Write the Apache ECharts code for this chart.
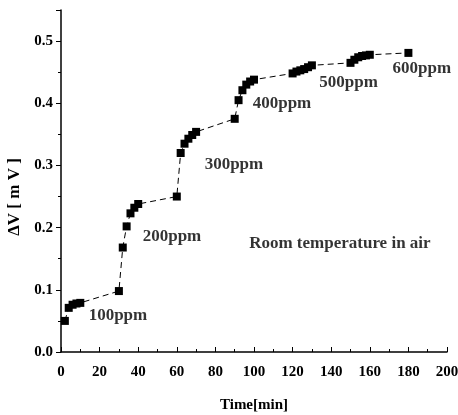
<!DOCTYPE html>
<html>
<head>
<meta charset="utf-8">
<script src="https://cdn.jsdelivr.net/npm/echarts@6/dist/echarts.min.js"></script>
<style>
  html, body { margin: 0; padding: 0; background: #fff; }
  #chart { width: 458px; height: 415px; }
</style>
</head>
<body>
<div id="chart"></div>
<script>
// 时间 (min) 与 ΔV (mV)
const times = [2, 4, 6, 8, 10, 30, 32, 34, 36, 38, 40, 60, 62, 64, 66, 68, 70, 90,
  92, 94, 96, 98, 100, 120, 122, 124, 126, 128, 130, 150, 152, 154, 156, 158, 160, 180];
const deltaV = [0.050, 0.071, 0.076, 0.078, 0.079, 0.098, 0.168, 0.202, 0.223, 0.232, 0.238, 0.250,
  0.320, 0.335, 0.343, 0.349, 0.354, 0.375,
  0.405, 0.421, 0.430, 0.435, 0.438, 0.448, 0.451, 0.453, 0.455, 0.458, 0.461,
  0.465, 0.470, 0.474, 0.476, 0.477, 0.478, 0.481];

// 标注文字 (数据坐标)
const noteTexts = ['100ppm', '200ppm', '300ppm', '400ppm', '500ppm', '600ppm', 'Room temperature in air'];
const noteX = [29.5, 57.5, 89.6, 114.5, 149, 187, 144.5];
const noteY = [0.058, 0.185, 0.302, 0.399, 0.434, 0.455, 0.175];

const font = '"Liberation Serif", "DejaVu Serif", serif';
const chart = echarts.init(document.getElementById('chart'));

const option = {
  animation: false,
  backgroundColor: '#fff',
  grid: { left: 61, right: 11, top: 10, bottom: 63, outerBoundsMode: 'none', containLabel: false },
  xAxis: {
    type: 'value',
    min: 0,
    max: 200,
    interval: 20,
    name: 'Time[min]',
    nameLocation: 'middle',
    nameGap: 46,
    nameTextStyle: { fontFamily: font, fontWeight: 'bold', fontSize: 15, color: '#000' },
    axisLine: { lineStyle: { color: '#000', width: 1.5 } },
    axisTick: { inside: true, length: 5, lineStyle: { color: '#000' } },
    minorTick: { show: true, splitNumber: 2, length: 3, lineStyle: { color: '#000' } },
    axisLabel: { fontFamily: font, fontWeight: 'bold', fontSize: 15, color: '#000', margin: 13 },
    splitLine: { show: false }
  },
  yAxis: {
    type: 'value',
    min: 0,
    max: 0.55,
    interval: 0.1,
    name: 'ΔV [ m V ]',
    nameLocation: 'middle',
    nameGap: 34,
    nameTextStyle: {
      fontFamily: font, fontWeight: 'bold', fontSize: 17, color: '#000',
      padding: [0, 32, 0, 0]
    },
    axisLine: { show: true, lineStyle: { color: '#000', width: 1.5 } },
    axisTick: { length: 5, lineStyle: { color: '#000' } },
    minorTick: { show: true, splitNumber: 2, length: 3, lineStyle: { color: '#000' } },
    axisLabel: {
      fontFamily: font, fontWeight: 'bold', fontSize: 15, color: '#000', margin: 8,
      formatter: v => (v > 0.52 ? '' : v.toFixed(1))
    },
    splitLine: { show: false }
  },
  series: [
    {
      type: 'line',
      data: times.map((t, i) => [t, deltaV[i]]),
      symbol: 'rect',
      symbolSize: 8,
      itemStyle: { color: '#000' },
      lineStyle: { color: '#000', width: 1, type: [6, 4] }
    },
    {
      // 浓度标注
      type: 'scatter',
      data: noteTexts.map((n, i) => ({ name: n, value: [noteX[i], noteY[i]] })),
      symbol: 'circle',
      symbolSize: 1,
      itemStyle: { color: 'rgba(0,0,0,0)' },
      silent: true,
      label: {
        show: true,
        position: 'inside',
        fontFamily: font,
        fontWeight: 'bold',
        fontSize: 17,
        color: '#000',
        formatter: p => p.name
      }
    }
  ]
};

chart.setOption(option);
</script>
</body>
</html>
